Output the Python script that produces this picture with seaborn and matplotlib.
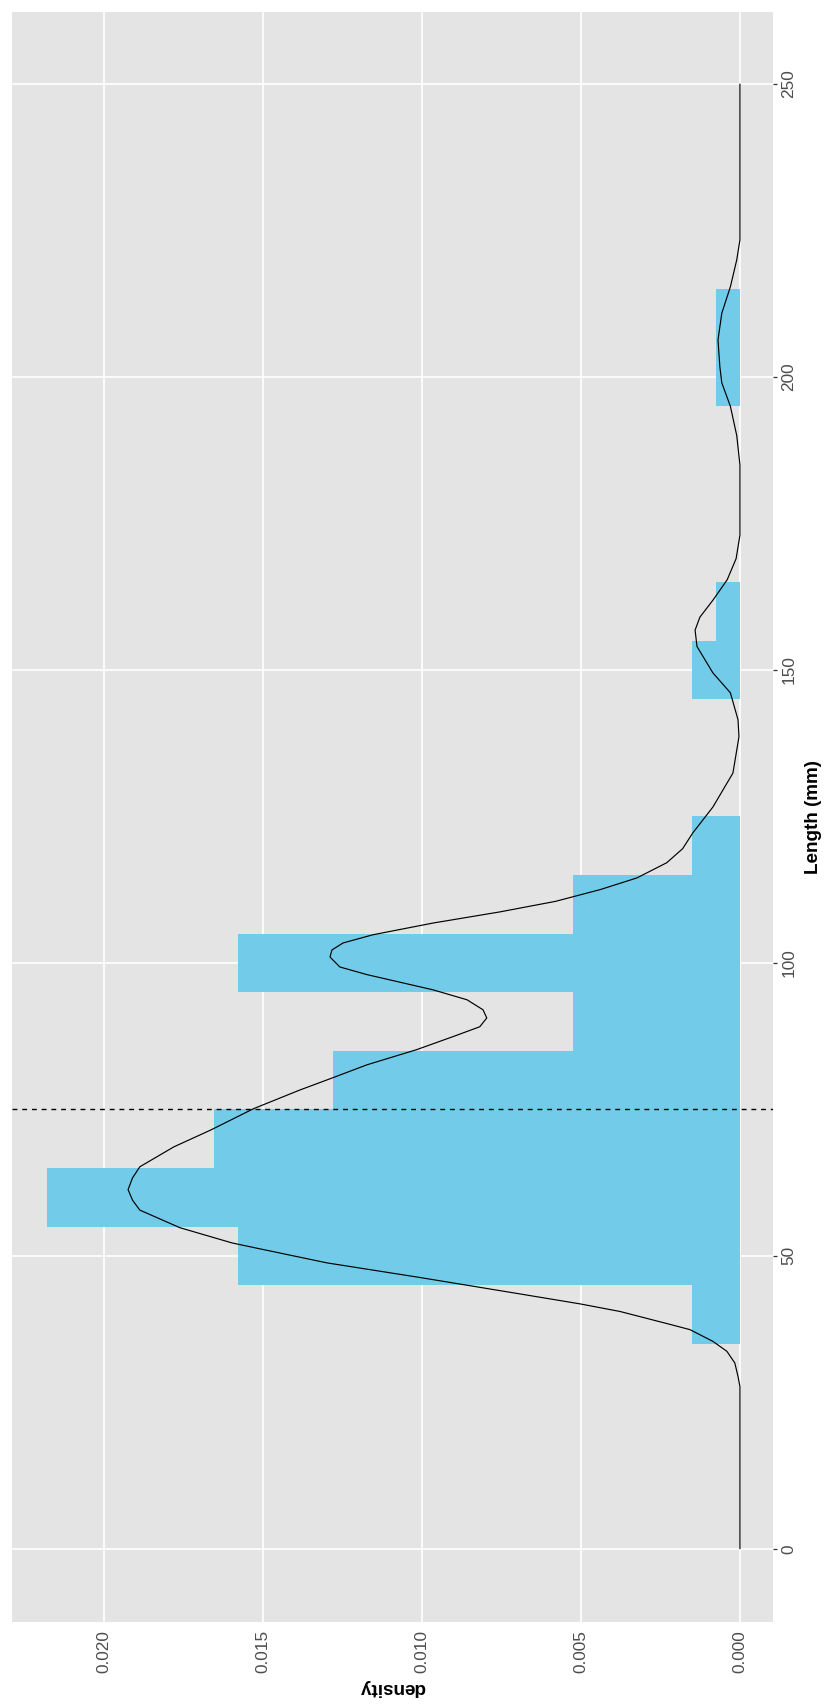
import numpy as np
import pandas as pd
import matplotlib
matplotlib.use("Agg")
import matplotlib.pyplot as plt
import seaborn as sns

# Histogram of lengths: 10 mm bins, counts per bin
bin_edges = [35, 45, 55, 65, 75, 85, 95, 105, 115, 125, 135, 145, 155, 165, 175, 185, 195, 205, 215]
bin_counts = [2, 21, 29, 22, 17, 7, 21, 7, 2, 0, 0, 2, 1, 0, 0, 0, 1, 1]

# Kernel density curve (length in mm, density)
curve_length = [0, 25, 27.7, 29.4, 31.7, 33.7, 35.4, 37.4, 38.3, 40.5, 41.8, 43.5, 44.9, 46.3,
                48.8, 51.2, 52.2, 54.8, 57.8, 59.5, 61.3, 63.3, 65.2, 68.6, 71.5, 75.1, 78.3,
                80.4, 82.6, 85.2, 87.4, 89.1, 90.6, 92.0, 93.7, 95.4, 98.0, 99.3, 101.0, 102.2,
                103.4, 104.8, 106.8, 108.7, 110.5, 112.5, 114.5, 117.1, 119.5, 122.2, 126.6,
                132.4, 138.6, 141.5, 146.1, 149.5, 154.0, 156.8, 159.0, 161.9, 165.4, 169, 173,
                185, 190, 195, 199.0, 201.7, 206.3, 210.9, 215.4, 220.0, 223.4, 250]
curve_density = [0, 0, 0, 0.00006, 0.00016, 0.00041, 0.00085, 0.00157, 0.0022, 0.00377, 0.00503,
                 0.00692, 0.00849, 0.01006, 0.01299, 0.0151, 0.01597, 0.01761, 0.01887, 0.0191,
                 0.01924, 0.0191, 0.01887, 0.0178, 0.01663, 0.0153, 0.01384, 0.0128, 0.01173,
                 0.01016, 0.00903, 0.00818, 0.00796, 0.00808, 0.00858, 0.00965, 0.01173,
                 0.01258, 0.01289, 0.01283, 0.01248, 0.01154, 0.00965, 0.00755, 0.0058, 0.0044,
                 0.00324, 0.0023, 0.0018, 0.00148, 0.00085, 0.00022, 0.00003, 0.00006, 0.0003,
                 0.00085, 0.00135, 0.00141, 0.00126, 0.00085, 0.0004, 0.00012, 0.0, 0.0,
                 0.0001, 0.0003, 0.00057, 0.00063, 0.00069, 0.00057, 0.0003, 0.0001, 0.0, 0.0]

mean_length = 75.0

density_ticks = [0.000, 0.005, 0.010, 0.015, 0.020]
density_labels = ["0.000", "0.005", "0.010", "0.015", "0.020"]
length_ticks = [0, 50, 100, 150, 200, 250]
length_labels = ["0", "50", "100", "150", "200", "250"]

bin_centers = [(a + b) / 2 for a, b in zip(bin_edges[:-1], bin_edges[1:])]
hist_df = pd.DataFrame({"length": bin_centers, "count": bin_counts})
curve_df = pd.DataFrame({"length": curve_length, "density": curve_density})

sns.set_theme(style="darkgrid")
plt.rcParams["font.family"] = ["Liberation Sans", "DejaVu Sans"]

fig = plt.figure(figsize=(8.28, 17.05), dpi=100)
ax = fig.add_axes([12 / 828, 83 / 1705, 761 / 828, 1610 / 1705])
ax.set_facecolor("#E4E4E4")

sns.histplot(data=hist_df, y="length", weights="count", bins=bin_edges, stat="density",
             color="#72CCE9", alpha=1, edgecolor="none", linewidth=0, ax=ax, zorder=2)
sns.lineplot(data=curve_df, x="density", y="length", sort=False, estimator=None,
             color="black", linewidth=0.85, ax=ax, zorder=3)
ax.axhline(mean_length, color="black", linewidth=1.0, linestyle=(0, (3.5, 3.5)), zorder=4)

ax.set_xlim(0.02289, -0.00104)
ax.set_ylim(-12.5, 262.3)

ax.set_xticks(density_ticks)
ax.set_xticklabels(density_labels, rotation=90, va="top", ha="center")
ax.set_yticks(length_ticks)
ax.yaxis.tick_right()
ax.set_yticklabels(length_labels, rotation=90, va="center", ha="left")

ax.grid(True, color="white", linewidth=1.2, zorder=0)
ax.set_axisbelow(True)
for s in ax.spines.values():
    s.set_visible(False)

ax.tick_params(axis="both", colors="#333333", length=3, width=0.9, labelsize=12.4,
               labelcolor="#4D4D4D", pad=3)
ax.tick_params(axis="y", left=False, right=True)

ax.set_xlabel("density", rotation=180, fontsize=13.6, fontweight="bold", color="black",
              labelpad=4)
ax.yaxis.set_label_position("right")
ax.set_ylabel("Length (mm)", rotation=90, fontsize=13.6, fontweight="bold", color="black",
              labelpad=6)

fig.savefig("out.png", dpi=100, facecolor="white")
